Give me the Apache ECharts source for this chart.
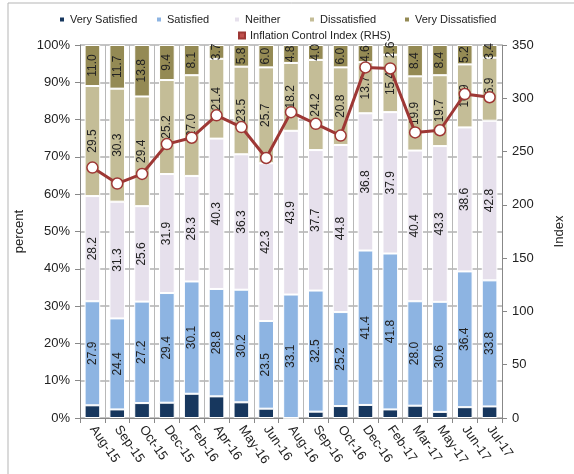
<!DOCTYPE html>
<html>
<head>
<meta charset="utf-8">
<script src="https://cdn.jsdelivr.net/npm/echarts@6/dist/echarts.min.js"></script>
<style>
  html, body { margin: 0; padding: 0; background: #fff; }
  #chart { width: 574px; height: 474px; }
</style>
</head>
<body>
<div id="chart"></div>
<script>
// survey months
var months = ['Aug-15', 'Sep-15', 'Oct-15', 'Dec-15', 'Feb-16', 'Apr-16', 'May-16', 'Jun-16', 'Aug-16',
  'Sep-16', 'Oct-16', 'Dec-16', 'Feb-17', 'Mar-17', 'May-17', 'Jun-17', 'Jul-17']

// answers, raw shares as labelled
var verySatisfied = [3.4, 2.3, 4.0, 4.1, 6.5, 5.8, 4.2, 2.5, 0, 1.7, 3.2, 3.5, 2.3, 3.3, 1.7, 2.9, 3.1]
var satisfied = [27.9, 24.4, 27.2, 29.4, 30.1, 28.8, 30.2, 23.5, 33.1, 32.5, 25.2, 41.4, 41.8, 28.0, 30.6, 36.4, 33.8]
var neither = [28.2, 31.3, 25.6, 31.9, 28.3, 40.3, 36.3, 42.3, 43.9, 37.7, 44.8, 36.8, 37.9, 40.4, 43.3, 38.6, 42.8]
var dissatisfied = [29.5, 30.3, 29.4, 25.2, 27.0, 21.4, 23.5, 25.7, 18.2, 24.2, 20.8, 13.7, 15.4, 19.9, 19.7, 16.9, 16.9]
var veryDissatisfied = [11.0, 11.7, 13.8, 9.4, 8.1, 3.7, 5.8, 6.0, 4.8, 4.0, 6.0, 4.6, 2.6, 8.4, 8.4, 5.2, 3.4]

// inflation control index, right axis
var inflationIndex = [235, 220, 229, 257, 263, 284, 273, 244, 287, 276, 265, 329, 328, 268, 270, 304, 301]

var font = 'Liberation Sans'
var textColor = '#222'

// 100% stacked: scale each month to its total
var groups = [verySatisfied, satisfied, neither, dissatisfied, veryDissatisfied]
var totals = months.map(function (m, i) {
  var s = 0
  groups.forEach(function (g) { s += g[i] })
  return s
})
function toPct(arr) {
  return arr.map(function (v, i) { return v / totals[i] * 100 })
}

function barSeries(name, raw, color, withLabel) {
  return {
    name: name,
    type: 'bar',
    stack: 'all',
    barWidth: '63%',
    data: toPct(raw),
    itemStyle: { color: color, borderColor: '#fff', borderWidth: 1 },
    label: {
      show: withLabel,
      position: 'inside',
      rotate: 90,
      fontFamily: font,
      fontSize: 12,
      color: textColor,
      formatter: function (p) { return raw[p.dataIndex].toFixed(1) }
    }
  }
}

// one legend box per entry so they sit where the original has them
function legendAt(name, left, top, color) {
  var item = color ? { name: name, itemStyle: { color: color } } : name
  return {
    left: left,
    top: top,
    itemWidth: 6,
    itemHeight: 6,
    icon: 'rect',
    textStyle: { fontFamily: font, fontSize: 11, color: textColor },
    data: [item]
  }
}

var chart = echarts.init(document.getElementById('chart'), null, { renderer: 'canvas' })

chart.setOption({
  backgroundColor: '#fff',
  animation: false,
  graphic: [{
    type: 'rect',
    shape: { x: 8, y: 3, width: 620, height: 520 },
    style: { fill: 'none', stroke: '#b5b5b5', lineWidth: 1 }
  }],
  legend: [
    legendAt('Very Satisfied', 53, 9),
    legendAt('Satisfied', 150, 9),
    legendAt('Neither', 228, 9),
    legendAt('Dissatisfied', 303, 9),
    legendAt('Very Dissatisfied', 398, 9),
    legendAt('Inflation Control Index (RHS)', 233, 25, '#c0504d')
  ],
  grid: { left: 80, right: 61, top: 45, bottom: 56 },
  xAxis: {
    type: 'category',
    data: months,
    axisLine: { lineStyle: { color: '#888' } },
    axisTick: { show: true, length: 5, lineStyle: { color: '#888' } },
    splitLine: { show: true, lineStyle: { color: '#b8b8b8', width: 1 } },
    axisLabel: {
      rotate: -55,
      interval: 0,
      margin: 9,
      fontFamily: font,
      fontSize: 13,
      color: textColor
    }
  },
  yAxis: [{
    type: 'value',
    min: 0,
    max: 100,
    interval: 10,
    name: 'percent',
    nameLocation: 'middle',
    nameGap: 46,
    nameRotate: 90,
    nameTextStyle: { fontFamily: font, fontSize: 13, color: textColor },
    axisLine: { show: true, lineStyle: { color: '#888' } },
    axisTick: { show: true, length: 5, lineStyle: { color: '#888' } },
    splitLine: { lineStyle: { color: '#b0b0b0', width: 1.5 } },
    axisLabel: {
      margin: 10,
      fontFamily: font,
      fontSize: 13,
      color: textColor,
      formatter: '{value}%'
    }
  }, {
    type: 'value',
    min: 0,
    max: 350,
    interval: 50,
    name: 'Index',
    nameLocation: 'middle',
    nameGap: 51,
    nameRotate: 90,
    nameTextStyle: { fontFamily: font, fontSize: 13, color: textColor },
    axisLine: { show: true, lineStyle: { color: '#888' } },
    axisTick: { show: true, length: 5, lineStyle: { color: '#888' } },
    splitLine: { show: false },
    axisLabel: { margin: 10, fontFamily: font, fontSize: 13, color: textColor }
  }],
  series: [
    barSeries('Very Satisfied', verySatisfied, '#17375e', false),
    barSeries('Satisfied', satisfied, '#8db4e2', true),
    barSeries('Neither', neither, '#e6e0ec', true),
    barSeries('Dissatisfied', dissatisfied, '#c4bd97', true),
    barSeries('Very Dissatisfied', veryDissatisfied, '#948a54', true),
    {
      name: 'Inflation Control Index (RHS)',
      type: 'line',
      yAxisIndex: 1,
      data: inflationIndex,
      z: 10,
      symbol: 'circle',
      symbolSize: 11,
      lineStyle: { color: '#9e3835', width: 3 },
      itemStyle: { color: '#fff', borderColor: '#9e3835', borderWidth: 1.5 }
    }
  ]
})
</script>
</body>
</html>
